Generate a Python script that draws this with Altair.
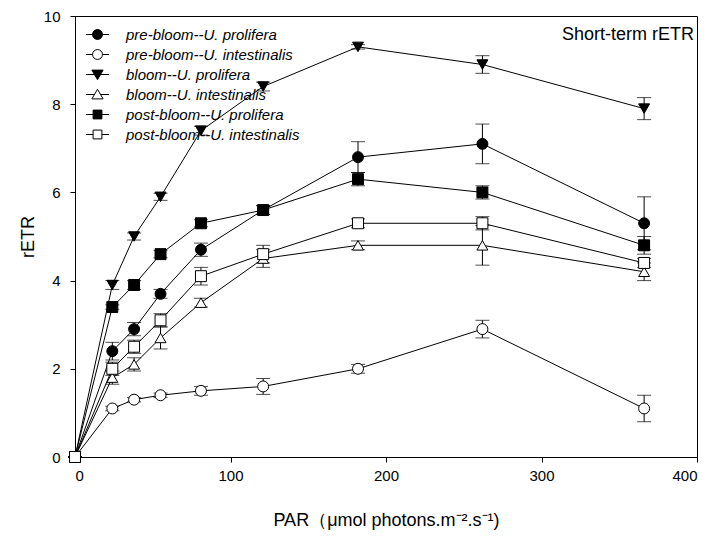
import altair as alt
import pandas as pd

par = [0, 24, 38, 55, 81, 121, 182, 262, 366]

series_names = [
    "pre-bloom--U. prolifera",
    "pre-bloom--U. intestinalis",
    "bloom--U. prolifera",
    "bloom--U. intestinalis",
    "post-bloom--U. prolifera",
    "post-bloom--U. intestinalis",
]

pre_pro = [0, 2.4, 2.9, 3.7, 4.7, 5.6, 6.8, 7.1, 5.3]
pre_pro_err = [0, 0.2, 0.15, 0.1, 0.15, 0.1, 0.35, 0.45, 0.6]
pre_int = [0, 1.1, 1.3, 1.4, 1.5, 1.6, 2.0, 2.9, 1.1]
pre_int_err = [0, 0.05, 0.05, 0.05, 0.1, 0.18, 0.1, 0.2, 0.3]
bloom_pro = [0, 3.9, 5.0, 5.9, 7.4, 8.4, 9.3, 8.9, 7.9]
bloom_pro_err = [0, 0.1, 0.08, 0.08, 0.1, 0.1, 0.05, 0.2, 0.25]
bloom_int = [0, 1.8, 2.1, 2.7, 3.5, 4.5, 4.8, 4.8, 4.2]
bloom_int_err = [0, 0.15, 0.15, 0.25, 0.1, 0.2, 0.1, 0.45, 0.2]
post_pro = [0, 3.4, 3.9, 4.6, 5.3, 5.6, 6.3, 6.0, 4.8]
post_pro_err = [0, 0.05, 0.1, 0.08, 0.08, 0.1, 0.15, 0.15, 0.2]
post_int = [0, 2.0, 2.5, 3.1, 4.1, 4.6, 5.3, 5.3, 4.4]
post_int_err = [0, 0.15, 0.15, 0.15, 0.2, 0.2, 0.1, 0.15, 0.1]

values = [pre_pro, pre_int, bloom_pro, bloom_int, post_pro, post_int]
errors = [pre_pro_err, pre_int_err, bloom_pro_err, bloom_int_err, post_pro_err, post_int_err]

rows = []
for k, name in enumerate(series_names):
    for i, x in enumerate(par):
        v = values[k][i]
        e = errors[k][i]
        rows.append({"series": name, "order": k, "par": x,
                     "retr": v, "lo": v - e, "hi": v + e, "idx": i})
df = pd.DataFrame(rows)

plain_shapes = ["circle", "circle", "triangle-down", "triangle-up", "square", "square"]
fills = ["black", "white", "black", "white", "black", "white"]
strokes = ["black"] * 6

circ = "M-1.44,0H-0.62M0.62,0H1.44M-0.62,0A0.62,0.62,0,1,1,0.62,0A0.62,0.62,0,1,1,-0.62,0Z"
sq = "M-1.44,0H-0.55M0.55,0H1.44M-0.55,-0.55H0.55V0.55H-0.55Z"
tdown = "M-1.44,0H-0.38M0.38,0H1.44M-0.7,-0.55H0.7L0,0.65Z"
tup = "M-1.44,0H-0.38M0.38,0H1.44M-0.7,0.55H0.7L0,-0.65Z"
legend_shapes = [circ, circ, tdown, tup, sq, sq]

xenc = alt.X("par:Q", scale=alt.Scale(domain=[0, 400], nice=False),
             axis=alt.Axis(values=[0, 100, 200, 300, 400],
                           title="PAR（μmol photons.m⁻².s⁻¹)"))
yenc = alt.Y("retr:Q", scale=alt.Scale(domain=[0, 10], nice=False),
             axis=alt.Axis(values=[0, 2, 4, 6, 8, 10], title="rETR"))

base = alt.Chart(df)

lines = base.mark_line(color="black", strokeWidth=1).encode(
    x=xenc, y=yenc, detail="series:N", order="idx:Q"
)

err_rule = base.mark_rule(color="black", strokeWidth=1).encode(
    x="par:Q", y="lo:Q", y2="hi:Q"
)
cap_lo = base.mark_tick(color="black", orient="horizontal", size=14, thickness=1).encode(
    x="par:Q", y="lo:Q"
)
cap_hi = base.mark_tick(color="black", orient="horizontal", size=14, thickness=1).encode(
    x="par:Q", y="hi:Q"
)

point_layers = []
for k, name in enumerate(series_names):
    point_layers.append(
        base.transform_filter(alt.datum.series == name).mark_point(
            shape=plain_shapes[k], filled=True, fill=fills[k], stroke="black",
            strokeWidth=1, size=120, opacity=1,
        ).encode(x="par:Q", y="retr:Q")
    )

leg = alt.Legend(
    title=None, orient="none", legendX=14, legendY=10,
    symbolSize=256, symbolStrokeWidth=1, symbolStrokeColor="black", symbolOpacity=1,
    labelFontSize=15, labelFontStyle="italic", labelFont="Liberation Sans",
    labelColor="black", labelOffset=20, rowPadding=3, labelLimit=400,
)
# legend-only layer: no rows drawn, entries come from the explicit scale domain
legend_layer = base.transform_filter(alt.datum.par < 0).mark_point(
    filled=True, strokeWidth=1, opacity=1
).encode(
    x="par:Q", y="retr:Q",
    shape=alt.Shape("series:N", scale=alt.Scale(domain=series_names, range=legend_shapes), legend=leg),
    fill=alt.Fill("series:N", scale=alt.Scale(domain=series_names, range=fills), legend=leg),
    stroke=alt.Stroke("series:N", scale=alt.Scale(domain=series_names, range=strokes), legend=leg),
)

label_df = pd.DataFrame({"t": ["Short-term rETR"]})
annot = alt.Chart(label_df).mark_text(
    align="right", baseline="middle", fontSize=18, font="Liberation Sans", color="black"
).encode(x=alt.value(619), y=alt.value(19), text="t:N")

chart = alt.layer(lines, err_rule, cap_lo, cap_hi, *point_layers, legend_layer, annot).properties(
    width=622, height=441,
    autosize=alt.AutoSizeParams(type="none"),
    padding={"left": 67, "top": 8, "right": 8, "bottom": 80},
).configure_view(
    stroke="black", strokeWidth=1
).configure_axis(
    grid=False, domainColor="black", tickColor="black", labelColor="black",
    titleColor="black", tickSize=5, labelFont="Liberation Sans", titleFont="Liberation Sans",
    labelFontSize=15, titleFontSize=18, titleFontWeight="normal", labelPadding=6,
).configure_axisY(
    titlePadding=6, titleFontSize=18, labelPadding=10
).configure_axisX(
    titlePadding=28
)

chart.save("out.html", embed_options={"renderer": "svg", "actions": False})
